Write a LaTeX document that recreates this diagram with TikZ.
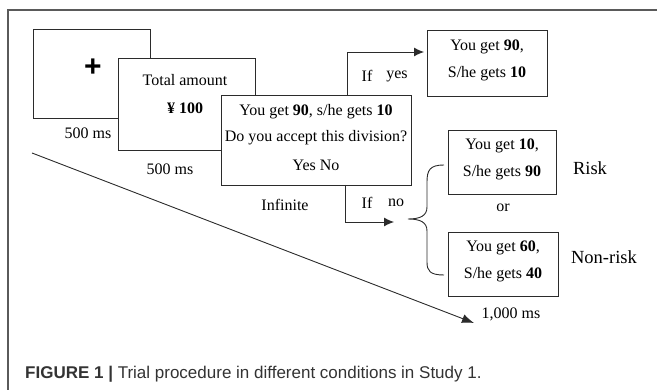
\documentclass[tikz,border=0pt]{standalone}
\usepackage{fontspec}
\setmainfont{Liberation Serif}
\newfontfamily\capfont{Liberation Sans}
\usetikzlibrary{arrows.meta}
\definecolor{linegray}{HTML}{2B2B2B}
\definecolor{framegray}{HTML}{5A5A5A}
\definecolor{capgray}{HTML}{333333}
\tikzset{
  screen/.style={draw=linegray, line width=0.9pt, fill=white, inner sep=0pt},
  txt/.style={font=\fontsize{16}{18}\selectfont, inner sep=0pt},
  big/.style={font=\fontsize{18.5}{20}\selectfont, inner sep=0pt},
  arr/.style={draw=linegray, line width=0.9pt, -{Latex[length=10pt,width=9pt]}},
}
\begin{document}
\begin{tikzpicture}[x=1pt, y=-1pt]
  \useasboundingbox (0,0) rectangle (657,390);
  % frame of the figure
  \draw[framegray, line width=1.2pt] (8,390) |- (657,10);

  % the three screens, each in front of the one before
  \node[screen, minimum width=117pt, minimum height=89pt] (fix) at (91.5,73.5) {};
  \node[screen, minimum width=137pt, minimum height=92pt] (total) at (186.5,104) {};
  \node[screen, minimum width=190pt, minimum height=90pt] (offer) at (316,140) {};

  \node[inner sep=0pt, font=\capfont\bfseries\fontsize{30}{30}\selectfont] (plus) at (93,68) {+};
  \node[txt] (amount) at (185,80) {Total amount};
  \node[txt] (money) at (185,108) {\textbf{¥ 100}};
  \node[txt] (offer1) at (316,112) {You get \textbf{90}, s/he gets \textbf{10}};
  \node[txt] (offer2) at (316,138) {Do you accept this division?};
  \node[txt] (offer3) at (316,165) {Yes No};

  \node[txt] (dur1) at (88,133) {500 ms};
  \node[txt] (dur2) at (170,169) {500 ms};
  \node[txt] (dur3) at (285,205) {Infinite};

  % outcome screens
  \node[screen, minimum width=120pt, minimum height=66pt] (accept) at (487,63) {};
  \node[txt] (acc1) at (487,47) {You get \textbf{90},};
  \node[txt] (acc2) at (487,74) {S/he gets \textbf{10}};

  \node[screen, minimum width=108pt, minimum height=64pt] (risk) at (502,162) {};
  \node[txt] (risk1) at (502,146) {You get \textbf{10},};
  \node[txt] (risk2) at (502,173) {S/he gets \textbf{90}};
  \node[big] (risklab) at (590,168) {Risk};

  \node[txt] (or) at (503,208) {or};

  \node[screen, minimum width=110pt, minimum height=64pt] (safe) at (503,264) {};
  \node[txt] (safe1) at (503,248) {You get \textbf{60},};
  \node[txt] (safe2) at (503,275) {S/he gets \textbf{40}};
  \node[big] (safelab) at (604,257) {Non-risk};

  % branches
  \coordinate (yesfrom) at (347,95);
  \coordinate (yesto) at (424,52);
  \draw[arr] (yesfrom) |- (yesto);
  \node[txt] (ifyes) at (367,76) {If};
  \node[txt] (yes) at (397,76) {yes};

  \coordinate (nofrom) at (345,185);
  \coordinate (noto) at (394,222);
  \draw[arr] (nofrom) |- (noto);
  \node[txt] (ifno) at (367,203) {If};
  \node[txt] (no) at (396,203) {no};

  \draw[linegray, line width=0.9pt] (444,165) .. controls (430,165) and (427,170) .. (427,182)
    -- (427,207) .. controls (427,216) and (420,219) .. (408,219)
    .. controls (420,219) and (427,222) .. (427,231)
    -- (427,262) .. controls (427,271) and (430,275) .. (444,275);

  % time line
  \coordinate (tstart) at (32,153);
  \coordinate (tend) at (474,323);
  \draw[arr, -{Latex[length=12pt,width=9pt]}] (tstart) -- (tend);
  \node[txt] (dur4) at (511,314) {1,000 ms};

  % caption
  \node[anchor=base west, inner sep=0pt, text=capgray, font=\capfont\fontsize{17}{20}\selectfont] (caption)
    at (25,379) {\textbf{FIGURE 1 |} Trial procedure in different conditions in Study 1.};
\end{tikzpicture}
\end{document}
